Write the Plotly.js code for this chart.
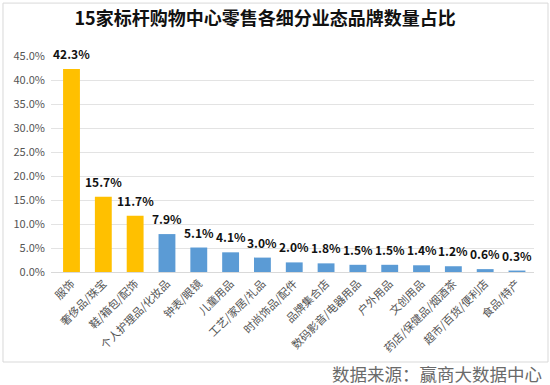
<!DOCTYPE html>
<html><head><meta charset="utf-8">
<script src="https://cdn.plot.ly/plotly-3.0.1.min.js"></script>
<style>body{margin:0;background:#fff}#c{width:550px;height:385px}</style>
</head><body><div id="c"></div>
<script>
var categories = ["服饰","奢侈品/珠宝","鞋/箱包/配饰","个人护理品/化妆品","钟表/眼镜","儿童用品","工艺/家居/礼品","时尚饰品/配件","品牌集合店","数码影音/电器用品","户外用品","文创用品","药店/保健品/烟酒茶","超市/百货/便利店","食品/特产"];
var values = [42.3,15.7,11.7,7.9,5.1,4.1,3.0,2.0,1.8,1.5,1.5,1.4,1.2,0.6,0.3];
var highlightCount = 3;
var tickVals = [0,5,10,15,20,25,30,35,40,45];
var tickText = tickVals.map(function(v){return v.toFixed(1)+"%";});

var font = "Noto Sans CJK SC, sans-serif";
var colors = values.map(function(v,i){return i<highlightCount?"#FFC000":"#5B9BD5";});
var trace = {
  type:"bar", x:categories, y:values,
  marker:{color:colors},
  width:0.53,
  hoverinfo:"none"
};
var labels = values.map(function(v,i){
  return {x:categories[i],y:v,xref:"x",yref:"y",text:"<b>"+v.toFixed(1)+"%</b>",showarrow:false,
    yanchor:"bottom",yshift:5,font:{family:font,size:12,color:"#111"}};
});
labels.push({text:"数据来源：赢商大数据中心",xref:"paper",yref:"paper",x:1.018,xanchor:"right",y:-0.472,yanchor:"middle",showarrow:false,borderpad:0,font:{family:font,size:17.5,color:"#6a6a6a"}});
var layout = {
  width:550,height:385,
  margin:{l:51,r:16,t:56,b:113},
  paper_bgcolor:"#fff",plot_bgcolor:"#fff",
  showlegend:false,
  title:{text:"<b>15家标杆购物中心零售各细分业态品牌数量占比</b>",font:{family:font,size:18,color:"#111"},x:0.482,xanchor:"center",y:0.952,yanchor:"middle"},
  xaxis:{tickangle:-45,tickfont:{family:font,size:11,color:"#555"},showline:true,linecolor:"#d9d9d9",ticks:"",fixedrange:true},
  yaxis:{range:[0,45],tickvals:tickVals,ticktext:tickText,tickfont:{family:font,size:11,color:"#555"},ticklabelstandoff:5,gridcolor:"#e3e3e3",zeroline:false,showline:false,ticks:"",fixedrange:true},
  shapes:[{type:"rect",xref:"paper",yref:"paper",x0:-0.0994,x1:1.029,y0:-0.4167,y1:1.245,line:{color:"#d9d9d9",width:1}}],
  annotations:labels
};
Plotly.newPlot("c",[trace],layout,{displayModeBar:false,staticPlot:true});
</script></body></html>
